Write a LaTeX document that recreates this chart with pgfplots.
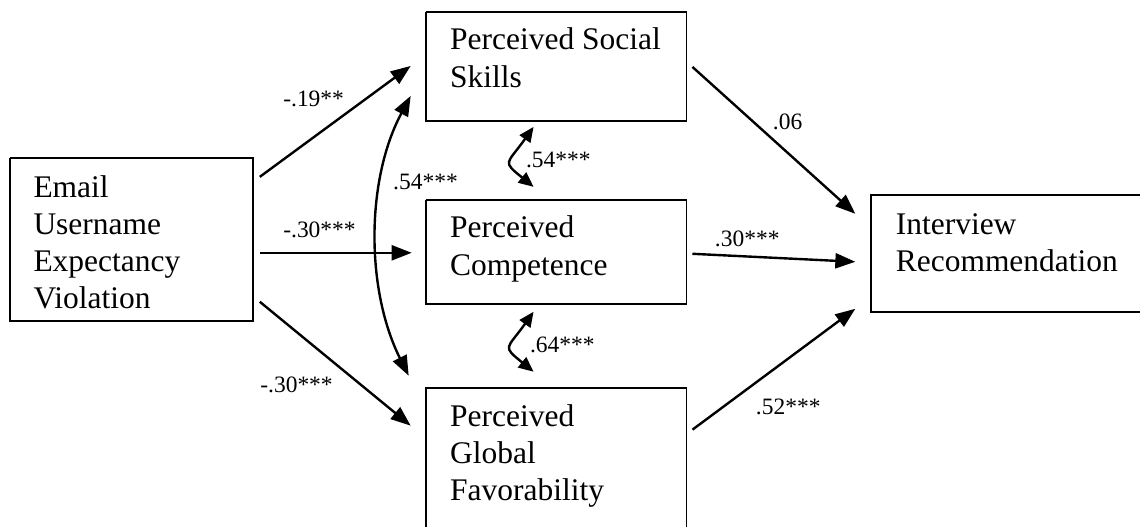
\documentclass[border=0pt]{standalone}
\usepackage{pgfplots}
\pgfplotsset{compat=1.18}
\usepackage{fontspec}
\setmainfont{Liberation Serif}
\usetikzlibrary{arrows.meta}
\begin{document}
\begin{tikzpicture}
\begin{axis}[
  scale only axis, width=1141pt, height=527pt,
  xmin=0, xmax=1141, ymin=0, ymax=527,
  hide axis, clip=false,
  every node/.style={inner sep=0pt, outer sep=0pt},
]
\path (axis cs:0,0) rectangle (axis cs:1141,527);
% boxes
\addplot[black, line width=1.8pt, mark=none] coordinates {(10,369) (253,369) (253,206) (10,206) (10,369)};
\addplot[black, line width=1.8pt, mark=none] coordinates {(426,515) (687,515) (687,406) (426,406) (426,515)};
\addplot[black, line width=1.8pt, mark=none] coordinates {(426,327) (687,327) (687,223) (426,223) (426,327)};
\addplot[black, line width=1.8pt, mark=none] coordinates {(426,0) (426,139) (687,139) (687,0)};
\addplot[black, line width=1.8pt, mark=none] coordinates {(1141,332) (872,332) (872,215) (1141,215)};
% straight arrows
\pgfplotsset{arr/.style={black, line width=2.4pt, mark=none, -{Triangle[length=20pt,width=15pt]}}}
\addplot[arr] coordinates {(260,350) (411,461)};
\addplot[arr] coordinates {(260,274) (412,274)};
\addplot[arr] coordinates {(260,225) (411,101)};
\addplot[arr] coordinates {(693,460) (856,313)};
\addplot[arr] coordinates {(693,273) (856,265)};
\addplot[arr] coordinates {(693,97) (856,218)};
% curved double arrows
\draw[black, line width=2.4pt, {Triangle[length=20pt,width=15pt]}-{Triangle[length=20pt,width=15pt]}]
  (axis cs:411,431) .. controls (axis cs:366,347) and (axis cs:366,237) .. (axis cs:409,151);
\draw[black, line width=2.4pt, {Triangle[length=15pt,width=13pt]}-{Triangle[length=15pt,width=13pt]}]
  (axis cs:534,400) .. controls (axis cs:507,362) and (axis cs:502,366) .. (axis cs:534,340);
\draw[black, line width=2.4pt, {Triangle[length=15pt,width=13pt]}-{Triangle[length=15pt,width=13pt]}]
  (axis cs:534,215) .. controls (axis cs:507,177) and (axis cs:502,181) .. (axis cs:534,155);
% box texts
\tikzset{bt/.style={anchor=base west, font=\fontsize{31.5}{37}\selectfont}}
\node[bt] at (axis cs:30,329) {Email};
\node[bt] at (axis cs:30,292) {Username};
\node[bt] at (axis cs:30,255) {Expectancy};
\node[bt] at (axis cs:30,218) {Violation};
\node[bt] at (axis cs:447,477) {Perceived Social};
\node[bt] at (axis cs:447,439) {Skills};
\node[bt] at (axis cs:447,289) {Perceived};
\node[bt] at (axis cs:447,251) {Competence};
\node[bt] at (axis cs:447,100) {Perceived};
\node[bt] at (axis cs:447,63) {Global};
\node[bt] at (axis cs:447,26) {Favorability};
\node[bt] at (axis cs:893,292) {Interview};
\node[bt] at (axis cs:893,255) {Recommendation};
% coefficient labels
\tikzset{lb/.style={anchor=base west, font=\fontsize{23.5}{28}\selectfont}}
\node[lb] at (axis cs:280,420) {-.19**};
\node[lb] at (axis cs:280,289) {-.30***};
\node[lb] at (axis cs:257,134) {-.30***};
\node[lb] at (axis cs:390,337) {.54***};
\node[lb] at (axis cs:523,359) {.54***};
\node[lb] at (axis cs:527,174) {.64***};
\node[lb] at (axis cs:770,397) {.06};
\node[lb] at (axis cs:712,280) {.30***};
\node[lb] at (axis cs:753,112) {.52***};
\end{axis}
\end{tikzpicture}
\end{document}
